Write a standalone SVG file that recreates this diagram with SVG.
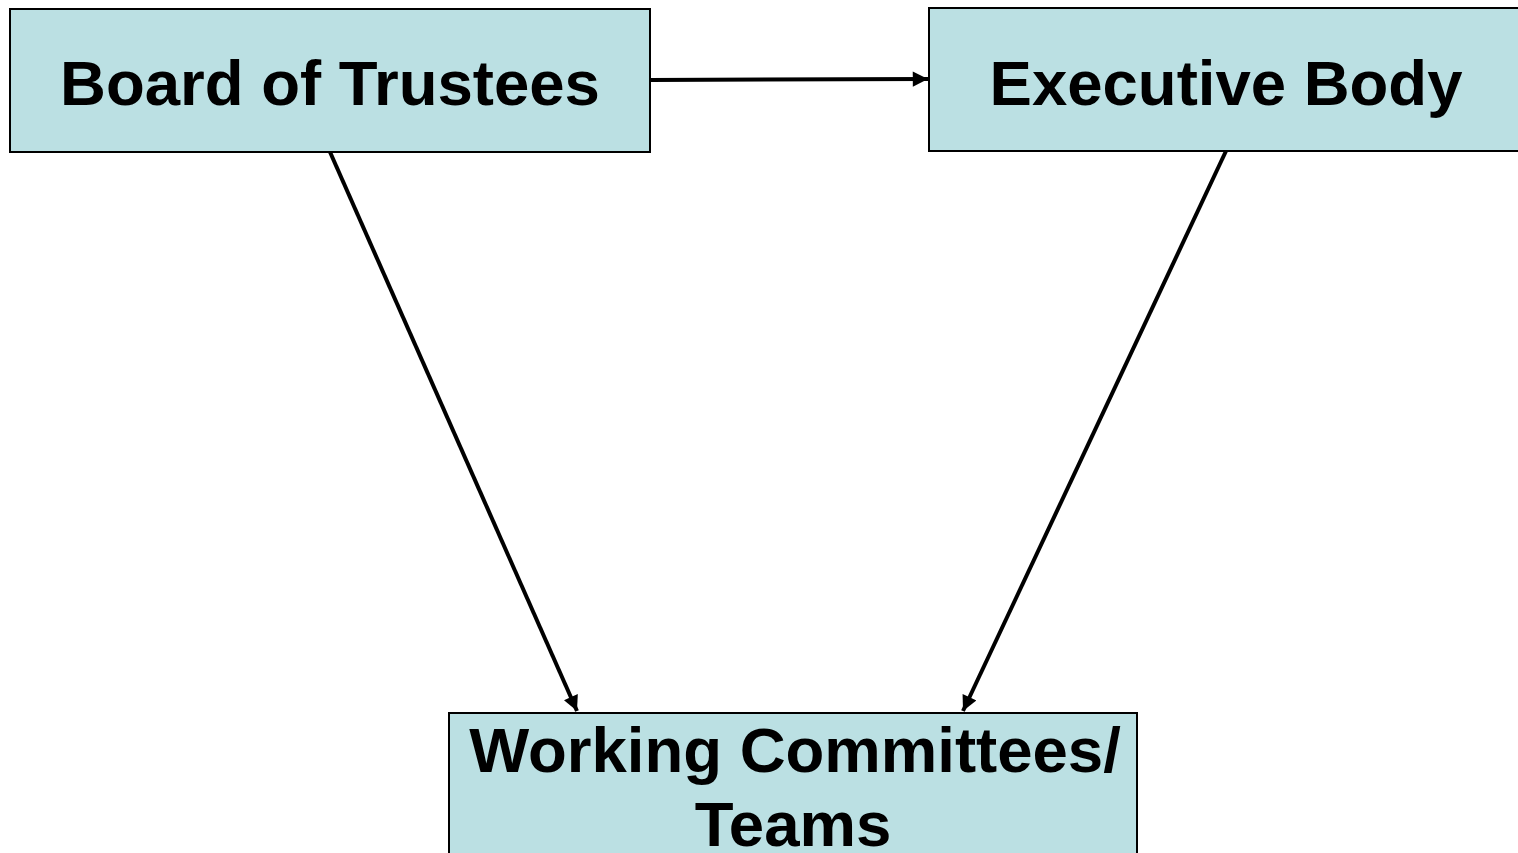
<svg xmlns="http://www.w3.org/2000/svg" width="1518" height="853" viewBox="0 0 1518 853">
<style>
.box{fill:#BBE0E3;stroke:#000;stroke-width:2}
.t{font-family:"Liberation Sans",Arial,sans-serif;font-weight:bold;font-size:63.5px;fill:#000;text-anchor:middle}
.c{stroke:#000;stroke-width:4;fill:none;marker-end:url(#ah)}
</style>
<defs>
<marker id="ah" viewBox="0 0 10 10" refX="10" refY="5" markerWidth="4" markerHeight="3.8" markerUnits="strokeWidth" orient="auto">
<path d="M0,0 L10,5 L0,10 z" fill="#000"/>
</marker>
</defs>
<rect width="1518" height="853" fill="#fff"/>
<g id="connectors">
<line class="c" x1="650" y1="80" x2="928" y2="79"/>
<line class="c" x1="330" y1="152" x2="577" y2="711"/>
<line class="c" x1="1226" y1="151" x2="963" y2="711"/>
</g>
<g id="board">
<rect class="box" x="10" y="9" width="640" height="143"/>
<text class="t" x="330" y="105">Board of Trustees</text>
</g>
<g id="executive">
<rect class="box" x="929" y="8" width="600" height="143"/>
<text class="t" x="1226" y="105">Executive Body</text>
</g>
<g id="working">
<rect class="box" x="449" y="713" width="688" height="160"/>
<text class="t" x="795" y="772">Working Committees/</text>
<text class="t" x="793" y="846">Teams</text>
</g>
</svg>
